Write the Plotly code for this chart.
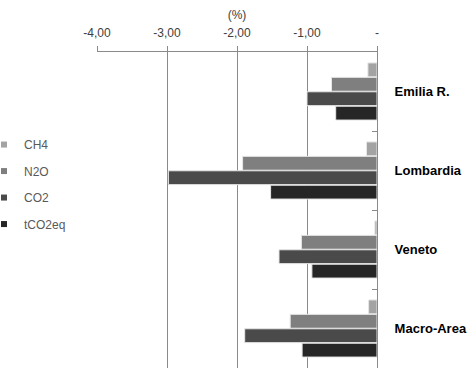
import plotly.graph_objects as go

categories = ["Emilia R.", "Lombardia", "Veneto", "Macro-Area"]
series_names = ["CH4", "N2O", "CO2", "tCO2eq"]
ch4 = [-0.13, -0.15, -0.03, -0.12]
n2o = [-0.65, -1.92, -1.08, -1.24]
co2 = [-1.00, -2.98, -1.40, -1.89]
tco2eq = [-0.59, -1.52, -0.93, -1.07]
tick_vals = [-4, -3, -2, -1, 0]
tick_text = ["-4,00", "-3,00", "-2,00", "-1,00", "-"]

values = [ch4, n2o, co2, tco2eq]
colors = ["#a3a3a3", "#7f7f7f", "#4a4a4a", "#262626"]

fig = go.Figure()
for name, vals, col in zip(series_names, values, colors):
    fig.add_trace(go.Bar(
        y=categories, x=vals, name=name, orientation="h",
        marker=dict(color=col, line=dict(color="#e6e6e6", width=1)),
        showlegend=False,
    ))
# legend entries with small square markers
for name, col in zip(series_names, colors):
    fig.add_trace(go.Scatter(
        x=[None], y=[None], mode="markers", name=name, legendgroup=name,
        marker=dict(symbol="square", size=6, color=col),
    ))

fig.update_layout(
    width=476, height=375,
    margin=dict(l=97, r=99, t=52, b=7, autoexpand=False),
    paper_bgcolor="white", plot_bgcolor="white",
    barmode="group", bargap=0.27, bargroupgap=0.04,
    font=dict(family="Liberation Sans, Arial, sans-serif", color="#404040", size=12),
    legend=dict(
        x=-0.4036, y=0.753,
        xanchor="left", yanchor="top", traceorder="grouped",
        tracegroupgap=7.5, font=dict(size=12, color="#595959"),
        itemwidth=30, bgcolor="rgba(0,0,0,0)",
    ),
    xaxis=dict(
        side="top", range=[-4, 0], tickvals=tick_vals, ticktext=tick_text,
        showgrid=True, gridcolor="#8a8a8a", gridwidth=1,
        showline=True, linecolor="#8a8a8a", linewidth=1,
        ticks="outside", ticklen=5, tickcolor="#8a8a8a",
        zeroline=False, tickfont=dict(size=12, color="#404040"),
        ticklabelstandoff=4, automargin=False,
        title=dict(text="(%)", font=dict(size=12, color="#404040"), standoff=4),
    ),
    yaxis=dict(
        side="right", autorange="reversed", categoryorder="array",
        categoryarray=categories, tickson="boundaries",
        showline=True, linecolor="#8a8a8a", linewidth=1,
        ticks="inside", ticklen=5, tickcolor="#8a8a8a",
        showgrid=False, zeroline=False, ticklabelstandoff=14, automargin=False,
        tickfont=dict(size=13, color="#000000", family="Liberation Sans, Arial, sans-serif", weight="bold"),
    ),
)

fig.write_html(
    "out.html",
    config={"displayModeBar": False},
    post_script="document.body.style.margin='0';document.body.style.padding='0';",
)
